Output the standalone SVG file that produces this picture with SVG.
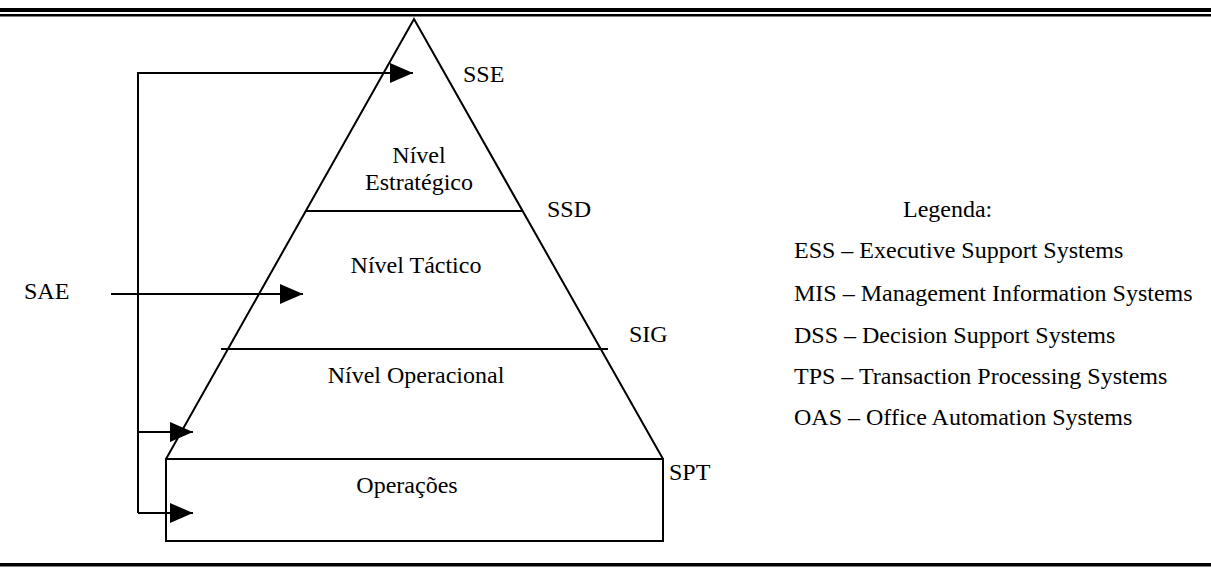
<svg xmlns="http://www.w3.org/2000/svg" width="1211" height="569" viewBox="0 0 1211 569" font-family="'Liberation Serif', 'DejaVu Serif', 'Times New Roman', serif" font-size="24">
<style>
text{font-family:'Liberation Serif','DejaVu Serif','Times New Roman',serif;font-size:24px;fill:#000}
.c{text-anchor:middle}
.ln{stroke:#000;stroke-width:2;fill:none}
</style>
<defs>
<marker id="ah" markerUnits="userSpaceOnUse" markerWidth="24" markerHeight="22" refX="23" refY="10" orient="auto">
<path d="M0,0 L23,10 L0,20 Z" fill="#000"/>
</marker>
</defs>
<rect width="1211" height="569" fill="#fff"/>
<g id="borders">
<rect x="0" y="8" width="1211" height="4" fill="#000"/>
<rect x="0" y="14" width="1211" height="2.5" fill="#000"/>
<rect x="0" y="563" width="1211" height="3.5" fill="#000"/>
</g>
<g id="pyramid">
<path class="ln" d="M166,459 L414,19 L663,459"/>
</g>
<g id="nivel-estrategico">
<text class="c" x="419" y="163">Nível</text>
<text class="c" x="419" y="190">Estratégico</text>
</g>
<g id="divisor-ssd"><line class="ln" x1="305" y1="211" x2="523" y2="211"/></g>
<g id="nivel-tactico"><text class="c" x="416" y="273">Nível Táctico</text></g>
<g id="divisor-sig"><line class="ln" x1="221" y1="349" x2="608" y2="349"/></g>
<g id="nivel-operacional"><text class="c" x="416" y="383">Nível Operacional</text></g>
<g id="operacoes">
<rect class="ln" x="166" y="459" width="497" height="82"/>
<text class="c" x="407" y="493">Operações</text>
</g>
<g id="labels">
<text x="463" y="82">SSE</text>
<text x="547" y="217">SSD</text>
<text x="629" y="342">SIG</text>
<text x="669" y="480">SPT</text>
<text x="24" y="299">SAE</text>
</g>
<g id="connectors">
<path class="ln" d="M138,513 L138,73 L413,73" marker-end="url(#ah)"/>
<line class="ln" x1="138" y1="432" x2="193" y2="432" marker-end="url(#ah)"/>
<line class="ln" x1="138" y1="513" x2="193" y2="513" marker-end="url(#ah)"/>
<line class="ln" x1="111" y1="294" x2="303" y2="294" marker-end="url(#ah)"/>
</g>
<g id="legenda">
<text x="903" y="217">Legenda:</text>
<text x="794" y="258">ESS – Executive Support Systems</text>
<text x="794" y="301">MIS – Management Information Systems</text>
<text x="794" y="343">DSS – Decision Support Systems</text>
<text x="794" y="384">TPS – Transaction Processing Systems</text>
<text x="794" y="425">OAS – Office Automation Systems</text>
</g>
</svg>
